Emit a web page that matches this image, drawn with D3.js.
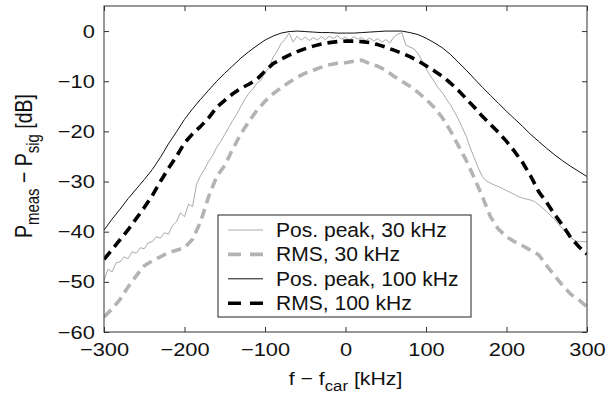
<!DOCTYPE html>
<html>
<head>
<meta charset="utf-8">
<script src="https://cdn.jsdelivr.net/npm/d3@7"></script>
<style>
  body { margin: 0; background: #fff; }
  svg { font-family: "Liberation Sans", Arial, sans-serif; }
</style>
</head>
<body>
<svg id="chart" width="614" height="396"></svg>
<script>
// frequency offset grids [kHz]
const freq = d3.range(-300, 301, 10);
const freqFine = d3.range(-300, 301, 5);

// Pos. peak, 100 kHz
const peak100 = [-39.7, -37.5, -35.5, -33.4, -31.5, -29.6, -27.6, -25.2, -22.5, -20.1,
  -17.6, -15.5, -13.6, -11.8, -10, -8.4, -6.9, -5.4, -4.1, -2.9,
  -1.8, -1.0, -0.4, -0.1, 0, -0.1, -0.2, -0.3, -0.3, -0.4,
  -0.4, -0.4, -0.3, -0.2, -0.1, 0, 0, 0, -0.3, -0.7,
  -1.4, -2.3, -3.3, -4.6, -6.2, -7.8, -9.5, -11.2, -12.8, -14.4,
  -16, -17.5, -19, -20.6, -22, -23.4, -24.7, -25.9, -27, -28, -29];

// RMS, 100 kHz
const rms100 = [-45.5, -43.6, -41.6, -39.6, -37.4, -35.2, -32.8, -30.0, -27.4, -25.0,
  -22.3, -20.5, -19.0, -17.3, -15.2, -13.8, -12.5, -11.4, -10.6, -9.6,
  -8.0, -6.5, -5.6, -4.8, -4.1, -3.5, -3.0, -2.6, -2.3, -2.1,
  -2.0, -2.0, -2.1, -2.3, -2.7, -3.2, -3.8, -4.4, -5.1, -5.9,
  -6.9, -7.9, -9.0, -10.3, -11.8, -13.5, -15.2, -17.0, -18.6, -20.2,
  -22.0, -24.0, -26.2, -28.9, -32.0, -34.2, -36.6, -38.8, -41.2, -43.0, -44.5];

// RMS, 30 kHz
const rms30 = [-57, -55.4, -53.5, -51, -48.8, -46.8, -45.8, -45, -44.2, -43.7,
  -43.2, -41.5, -38, -33, -29, -26.8, -23.5, -20.5, -18, -15.8,
  -14, -12.5, -11.3, -10.2, -9.2, -8.4, -7.8, -7.2, -6.7, -6.4,
  -6.3, -6.0, -5.8, -6.5, -7.0, -7.8, -9.0, -10.0, -11.0, -12.2,
  -13.6, -15.2, -17.2, -19.8, -22.8, -25.8, -29.3, -33, -37, -39.5,
  -41, -42, -42.8, -43.7, -44.6, -46.8, -48.8, -50.8, -52.5, -53.6, -55];

// Pos. peak, 30 kHz (5 kHz steps)
const peak30 = [-49.7, -47.5, -48.0, -46.2, -46.0, -45.0, -45.4, -44.0, -44.3, -43.2,
  -43.4, -42.2, -42.0, -41.0, -41.3, -40.2, -40.5, -38.8, -38.0, -36.2,
  -37.0, -34.5, -35.0, -30.5, -28.8, -27.5, -26.0, -24.8, -23.2, -22.0,
  -20.6, -19.2, -17.8, -16.6, -15.0, -13.6, -12.4, -11.5, -10.4, -9.8,
  -8.2, -7.4, -5.2, -4.0, -2.5, -1.6, -0.4, -2.2, -1.0, -1.8,
  -1.2, -1.9, -1.3, -1.8, -1.1, -1.7, -1.0, -1.5, -0.9, -1.6,
  -1.2, -1.8, -1.1, -1.6, -1.3, -1.9, -1.4, -2.0, -1.5, -2.2,
  -1.7, -2.4, -1.2, -0.6, -0.3, -2.8, -3.2, -3.5, -4.5, -5.8,
  -7.5, -8.8, -10.0, -11.3, -12.2, -13.5, -14.6, -16.0, -17.5, -19.2,
  -21.0, -23.3, -25.3, -27.3, -29.0, -29.9, -30.3, -30.7, -31.0, -31.4,
  -31.8, -32.2, -32.6, -33.0, -33.3, -33.5, -33.7, -34.0, -34.6, -35.3,
  -36.0, -36.8, -37.6, -38.6, -39.5, -40.4, -41.2, -41.8, -42.0, -42.0, -42.0];

const xTicks = [-300, -200, -100, 0, 100, 200, 300];
const yTicks = [-60, -50, -40, -30, -20, -10, 0];

const legendLabels = ["Pos. peak, 30 kHz", "RMS, 30 kHz", "Pos. peak, 100 kHz", "RMS, 100 kHz"];

const margin = { left: 104, right: 27, top: 6, bottom: 64 };
const width = 614 - margin.left - margin.right;
const height = 396 - margin.top - margin.bottom;

const svg = d3.select("#chart");
const g = svg.append("g").attr("transform", `translate(${margin.left},${margin.top})`);

const x = d3.scaleLinear().domain([-300, 300]).range([0, width]);
const y = d3.scaleLinear().domain([-60, 5]).range([height, 0]);

const clip = svg.append("defs").append("clipPath").attr("id", "clip");
clip.append("rect").attr("width", width).attr("height", height);

const line = d3.line().x(d => x(d[0])).y(d => y(d[1]));

const series = [
  { xs: freqFine, ys: peak30, color: "#aaaaaa", w: 1, dash: null },
  { xs: freq, ys: rms30, color: "#b3b3b3", w: 3.6, dash: "10,6" },
  { xs: freq, ys: peak100, color: "#111", w: 1, dash: null },
  { xs: freq, ys: rms100, color: "#000", w: 3.6, dash: "10,6" }
];

const plot = g.append("g").attr("clip-path", "url(#clip)");
series.forEach(s => {
  plot.append("path")
    .datum(s.xs.map((f, i) => [f, s.ys[i]]))
    .attr("fill", "none")
    .attr("stroke", s.color)
    .attr("stroke-width", s.w)
    .attr("stroke-dasharray", s.dash)
    .attr("stroke-linejoin", "round")
    .attr("d", line);
});

// axes (ticks inward, on all four sides)
const fmt = d3.format("d");
const styleAxis = sel => {
  sel.select(".domain").remove();
  sel.selectAll("line").attr("stroke", "#333");
  sel.selectAll("text").attr("font-size", 19).attr("fill", "#111")
    .attr("transform", "scale(1.15,1)");
};

g.append("g").attr("transform", `translate(0,${height})`)
  .call(d3.axisBottom(x).tickValues(xTicks).tickFormat(fmt).tickSizeInner(-5).tickPadding(11))
  .call(styleAxis);
g.append("g")
  .call(d3.axisTop(x).tickValues(xTicks).tickFormat("").tickSizeInner(-5))
  .call(styleAxis);
g.append("g")
  .call(d3.axisLeft(y).tickValues(yTicks).tickFormat(fmt).tickSizeInner(-5).tickPadding(8))
  .call(styleAxis);
g.append("g").attr("transform", `translate(${width},0)`)
  .call(d3.axisRight(y).tickValues(yTicks).tickFormat("").tickSizeInner(-5))
  .call(styleAxis);

g.append("rect")
  .attr("width", width).attr("height", height)
  .attr("fill", "none").attr("stroke", "#333").attr("stroke-width", 1);

// legend
const lg = g.append("g").attr("transform", `translate(${218 - margin.left},${215 - margin.top})`);
lg.append("rect").attr("width", 253).attr("height", 102)
  .attr("fill", "#fff").attr("stroke", "#222");
legendLabels.forEach((lab, i) => {
  const yy = 15 + i * 24.4;
  const s = series[i];
  lg.append("line").attr("x1", 10).attr("x2", 45).attr("y1", yy).attr("y2", yy)
    .attr("stroke", s.color).attr("stroke-width", s.w)
    .attr("stroke-dasharray", s.dash ? "13,9" : null);
  lg.append("text")
    .attr("transform", `translate(58,${yy + 7}) scale(1.08,1)`)
    .attr("font-size", 19.5).attr("fill", "#111").text(lab);
});

// axis titles
const xt = svg.append("text")
  .attr("transform", `translate(${margin.left + width / 2},385) scale(1.12,1)`)
  .attr("text-anchor", "middle").attr("font-size", 19).attr("fill", "#111");
xt.append("tspan").text("f − f");
xt.append("tspan").attr("font-size", 15).attr("dy", 6).text("car");
xt.append("tspan").attr("dy", -6).text(" [kHz]");

const yt = svg.append("text")
  .attr("transform", `translate(32,${margin.top + height / 2 - 3}) rotate(-90) scale(1,1.2)`)
  .attr("text-anchor", "middle").attr("font-size", 19.5).attr("fill", "#111");
yt.append("tspan").text("P");
yt.append("tspan").attr("font-size", 15).attr("dy", 6).text("meas");
yt.append("tspan").attr("dy", -6).text(" − P");
yt.append("tspan").attr("font-size", 15).attr("dy", 6).text("sig");
yt.append("tspan").attr("dy", -6).text(" [dB]");
</script>
</body>
</html>
